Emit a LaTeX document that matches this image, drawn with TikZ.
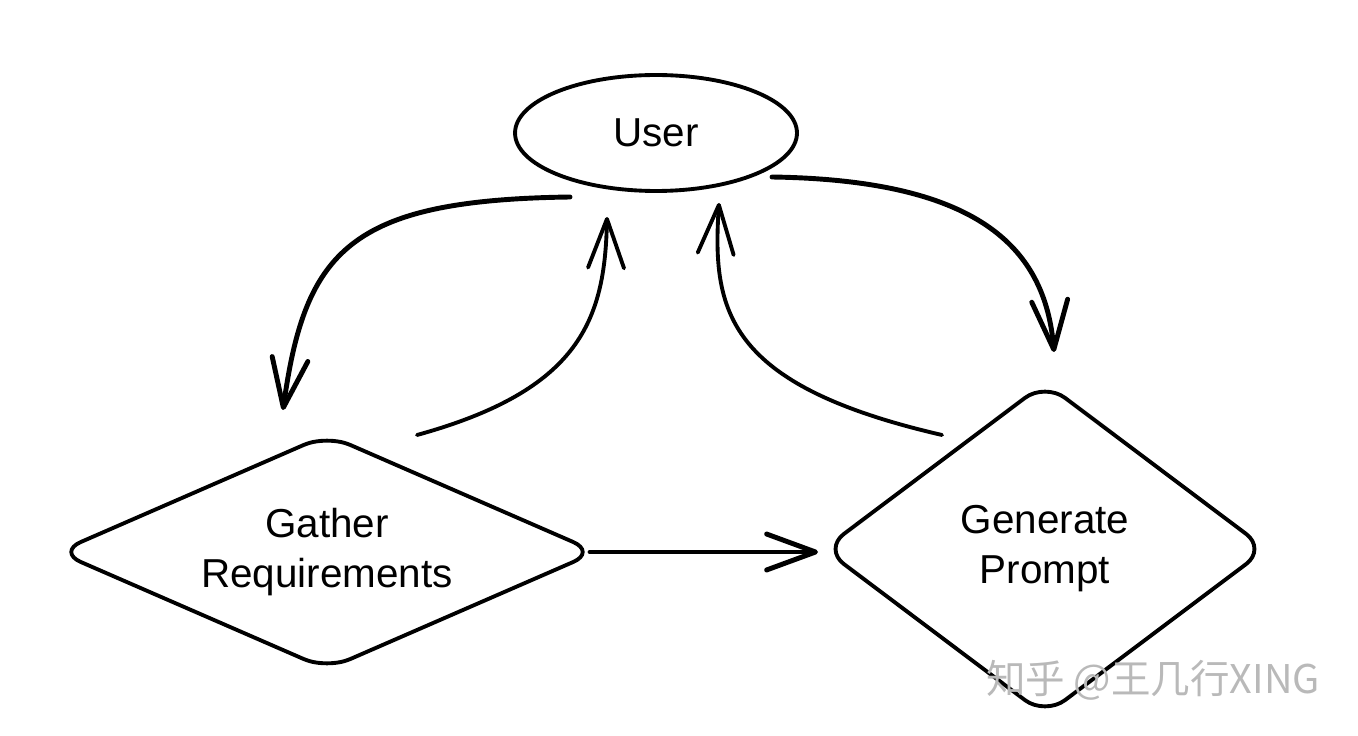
\documentclass[tikz,border=0pt]{standalone}
\usepackage{fontspec}
\setmainfont{Liberation Sans}
\newfontfamily\cjk{Noto Sans CJK SC}
\usetikzlibrary{shapes.geometric,arrows.meta}

\begin{document}
\begin{tikzpicture}[x=0.02cm,y=-0.02cm,
  every node/.style={font=\fontsize{23}{28.5}\selectfont, align=center, inner sep=0pt},
  stage/.style={draw, line width=2.2pt, diamond, rounded corners=0.5cm},
  flow/.style={line width=2.2pt, line cap=round, -{Straight Barb[length=0.98cm,width=0.72cm,round]}},
  bold/.style={line width=2.8pt}]
\useasboundingbox (0,0) rectangle (1358,736);
\node[draw, ellipse, line width=2.2pt, minimum width=5.64cm, minimum height=2.32cm] (user) at (656,133) {User};
\node[stage, aspect=2.3, minimum width=10.8cm, minimum height=4.72cm] (gather) at (327,552) {Gather\\Requirements};
\node[stage, aspect=1.33, minimum width=8.88cm, minimum height=6.68cm] (prompt) at (1045,549) {Generate\\Prompt};
% user <-> gather
\draw[flow, bold] ([shift={(-86,64)}]user.center) .. controls +(-220,3) and +(22,-160) .. ([shift={(-44,-142)}]gather.center);
\draw[flow] ([shift={(90,-117)}]gather.center) .. controls +(163,-45) and +(-2,103) .. ([shift={(-49,84)}]user.center);
% user <-> prompt
\draw[flow] ([shift={(-103,-114)}]prompt.center) .. controls +(-217,-50) and +(-7,107) .. ([shift={(63,70)}]user.center);
\draw[flow, bold] ([shift={(116,44)}]user.center) .. controls +(203,3) and +(-9,-107) .. ([shift={(9,-197)}]prompt.center);
% gather -> prompt
\draw[flow, bold] ([shift={(263,0)}]gather.center) -- ([shift={(-227,3)}]prompt.center);
\node[font=\cjk\fontsize{22.5}{22.5}\selectfont, text=gray!55] (mark) at (1153,680) {知乎 @王几行XING};
\end{tikzpicture}
\end{document}
